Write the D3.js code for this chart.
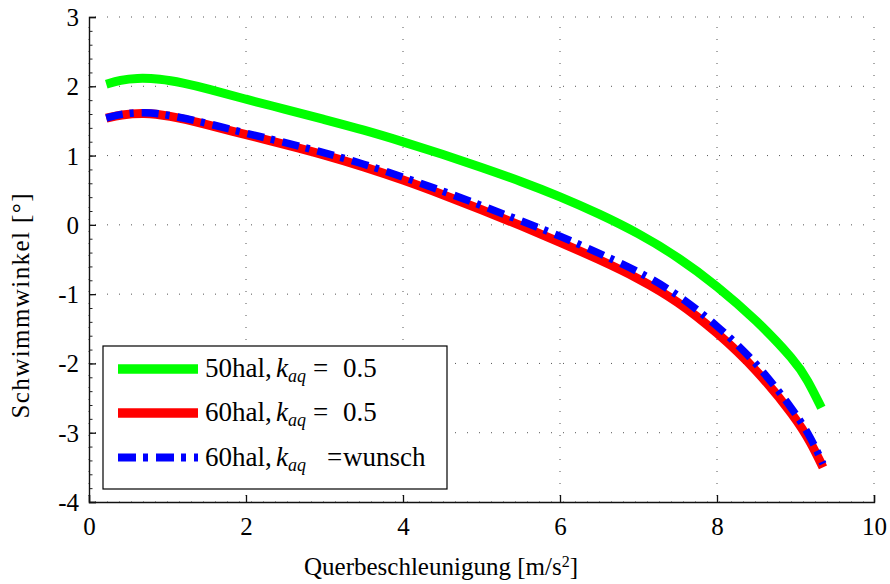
<!DOCTYPE html>
<html>
<head>
<meta charset="utf-8">
<script src="https://cdn.jsdelivr.net/npm/d3@7"></script>
<style>
  body { margin: 0; background: #fff; }
  svg text { font-family: "Liberation Serif", serif; fill: #000; }
</style>
</head>
<body>
<div id="chart"></div>
<script>
// Querbeschleunigung [m/s^2] vs Schwimmwinkel [deg]
var green50X = [0.22, 0.4, 0.6, 0.9, 1.2, 1.5, 2, 2.5, 3, 3.5, 4, 4.5, 5, 5.5, 6, 6.5, 7, 7.5, 8, 8.5, 9, 9.15, 9.33];
var green50Y = [2.03, 2.09, 2.12, 2.11, 2.05, 1.97, 1.81, 1.67, 1.52, 1.37, 1.20, 1.02, 0.83, 0.63, 0.41, 0.16, -0.12, -0.46, -0.88, -1.37, -1.97, -2.23, -2.64];

var red60X = [0.22, 0.4, 0.7, 1.0, 1.5, 2, 2.5, 3, 3.5, 4, 4.5, 5, 5.5, 6, 6.5, 7, 7.5, 8, 8.5, 9, 9.2, 9.35];
var red60Y = [1.54, 1.59, 1.62, 1.58, 1.45, 1.30, 1.16, 1.01, 0.84, 0.65, 0.44, 0.22, -0.01, -0.25, -0.50, -0.77, -1.10, -1.55, -2.08, -2.78, -3.15, -3.50];

var blue60X = [0.22, 0.4, 0.7, 1.0, 1.5, 2, 2.5, 3, 3.5, 4, 4.5, 5, 5.5, 6, 6.5, 7, 7.5, 8, 8.5, 9, 9.2, 9.35];
var blue60Y = [1.54, 1.60, 1.63, 1.59, 1.47, 1.32, 1.19, 1.04, 0.88, 0.69, 0.49, 0.28, 0.06, -0.16, -0.41, -0.67, -1.00, -1.45, -1.98, -2.71, -3.08, -3.45];

var xTicks = [0, 2, 4, 6, 8, 10];
var yTicks = [3, 2, 1, 0, -1, -2, -3, -4];

var width = 890, height = 584;
// plot box (don't call these top/left, window.top is taken)
var pL = 89, pR = 874, pT = 17, pB = 502;

var svg = d3.select("#chart").append("svg")
  .attr("width", width)
  .attr("height", height);

var x = d3.scaleLinear().domain([0, 10]).range([pL, pR]);
var y = d3.scaleLinear().domain([-4, 3]).range([pB, pT]);

// dotted grid
var grid = svg.append("g").attr("class", "grid");
grid.selectAll(".gy")
  .data(yTicks)
  .enter().append("line")
  .attr("x1", pL + 6).attr("x2", pR)
  .attr("y1", function(d) { return y(d); })
  .attr("y2", function(d) { return y(d); })
  .attr("stroke", "#555")
  .attr("stroke-width", 1)
  .attr("stroke-dasharray", "1,11");
grid.selectAll(".gx")
  .data(xTicks)
  .enter().append("line")
  .attr("y1", pB - 6).attr("y2", pT)
  .attr("x1", function(d) { return x(d); })
  .attr("x2", function(d) { return x(d); })
  .attr("stroke", "#555")
  .attr("stroke-width", 1)
  .attr("stroke-dasharray", "1,11");

// curves
var line = d3.line()
  .x(function(d) { return x(d[0]); })
  .y(function(d) { return y(d[1]); })
  .curve(d3.curveBasis);

function pairs(xs, ys) { return xs.map(function(v, i) { return [v, ys[i]]; }); }

var series = [
  { name: "50hal,", pts: pairs(green50X, green50Y), color: "#00ff00", w: 9, dash: null, eqX: 313, val: "0.5" },
  { name: "60hal,", pts: pairs(red60X, red60Y), color: "#ff0000", w: 9, dash: null, eqX: 313, val: "0.5" },
  { name: "60hal,", pts: pairs(blue60X, blue60Y), color: "#0000ff", w: 7.5, dash: "17,7,4,8", eqX: 327, val: "wunsch" }
];

svg.selectAll(".curve")
  .data(series)
  .enter().append("path")
  .attr("class", "curve")
  .attr("d", function(d) { return line(d.pts); })
  .attr("fill", "none")
  .attr("stroke", function(d) { return d.color; })
  .attr("stroke-width", function(d) { return d.w; })
  .attr("stroke-dasharray", function(d) { return d.dash; })
  .attr("stroke-linecap", "butt")
  .attr("stroke-linejoin", "round");

// axes (left and bottom only, ticks inside)
var yAxis = d3.axisLeft(y).tickValues(yTicks).tickSize(-7).tickPadding(10)
  .tickFormat(function(d) { return d; });
var yMinor = d3.axisLeft(y).tickValues(d3.range(-4, 3.01, 0.2)).tickSize(-3.5).tickFormat("");
var xAxis = d3.axisBottom(x).tickValues(xTicks).tickSize(-7).tickPadding(15)
  .tickFormat(function(d) { return d; });

svg.append("g").attr("transform", "translate(" + pL + ",0)").call(yMinor)
  .call(function(g) { g.select(".domain").remove(); g.selectAll("line").attr("stroke", "#222"); });

var gy = svg.append("g").attr("transform", "translate(" + pL + ",0)").call(yAxis);
var gx = svg.append("g").attr("transform", "translate(0," + pB + ")").call(xAxis);

[gx, gy].forEach(function(g) {
  g.select(".domain").attr("stroke", "#111").attr("stroke-width", 1.4);
  g.selectAll(".tick line").attr("stroke", "#111").attr("stroke-width", 1.3);
  g.selectAll(".tick text").style("font-size", "25px").style("font-family", "Liberation Serif, serif").attr("fill", "#000");
});
gy.selectAll(".tick text").attr("dy", "0.34em");

// axis titles
var xt = svg.append("text")
  .attr("x", 441).attr("y", 575)
  .attr("text-anchor", "middle")
  .style("font-size", "25px");
xt.append("tspan").text("Querbeschleunigung [m/s");
xt.append("tspan").attr("baseline-shift", "super").style("font-size", "16px").text("2");
xt.append("tspan").text("]");

svg.append("text")
  .attr("transform", "translate(29,306) rotate(-90)")
  .attr("text-anchor", "middle")
  .attr("textLength", 225)
  .attr("lengthAdjust", "spacing")
  .style("font-size", "25px")
  .text("Schwimmwinkel [°]");

// legend
var lg = svg.append("g").attr("class", "legend");
lg.append("rect")
  .attr("x", 103).attr("y", 346)
  .attr("width", 344).attr("height", 143)
  .attr("fill", "#fff")
  .attr("stroke", "#000")
  .attr("stroke-width", 1.2);

var rowY = [369, 413, 457.5];
var rows = lg.selectAll(".row")
  .data(series)
  .enter().append("g")
  .attr("transform", function(d, i) { return "translate(0," + rowY[i] + ")"; });

rows.append("line")
  .attr("x1", 118).attr("x2", 198)
  .attr("stroke", function(d) { return d.color; })
  .attr("stroke-width", function(d) { return d.w + 0.5; })
  .attr("stroke-dasharray", function(d) { return d.dash ? "18,7,5,8" : null; });

var lt = rows.append("text")
  .attr("y", 8)
  .style("font-size", "27px");
lt.append("tspan").attr("x", 205).text(function(d) { return d.name; });
lt.append("tspan").attr("x", 276).style("font-style", "italic").text("k");
lt.append("tspan").attr("x", 288).attr("dy", 5).style("font-style", "italic").style("font-size", "18px").text("aq");
lt.append("tspan").attr("x", function(d) { return d.eqX; }).attr("dy", -5).text("=");
lt.append("tspan").attr("x", 343).text(function(d) { return d.val; });
</script>
</body>
</html>
